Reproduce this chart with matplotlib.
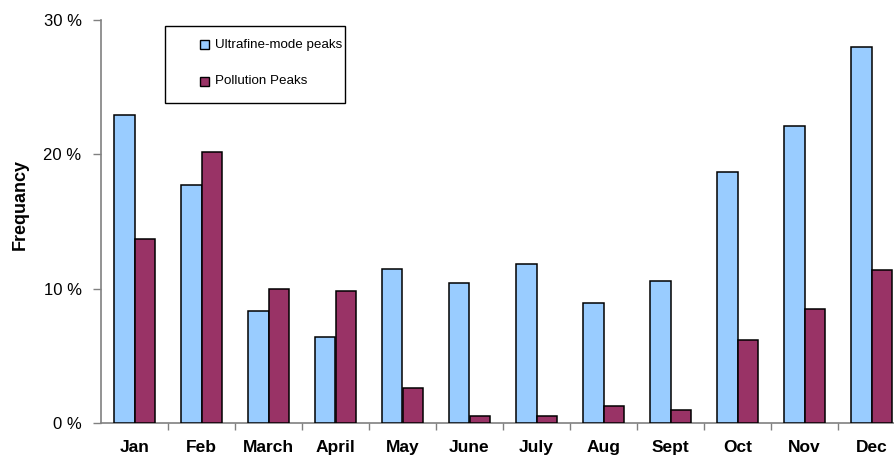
import matplotlib
matplotlib.use('Agg')
from matplotlib import pyplot as plt
from matplotlib.patches import Rectangle
import numpy as np

months = ['Jan', 'Feb', 'March', 'April', 'May', 'June', 'July', 'Aug', 'Sept', 'Oct', 'Nov', 'Dec']
ultrafine = [22.9, 17.7, 8.35, 6.4, 11.5, 10.4, 11.8, 8.9, 10.6, 18.7, 22.1, 28.0]
pollution = [13.7, 20.2, 9.95, 9.8, 2.6, 0.55, 0.55, 1.25, 1.0, 6.2, 8.45, 11.4]
y_ticks = [0, 10, 20, 30]
series_names = ['Ultrafine-mode peaks', 'Pollution Peaks']
colors = ['#99CCFF', '#993366']

plt.rcParams['font.family'] = ['Liberation Sans', 'DejaVu Sans']

W, H = 894, 461
fig = plt.figure(figsize=(W / 100, H / 100), dpi=100)

def fx(px):
    return px / W

def fy(py):
    return 1 - py / H

# axes runs past the right edge of the picture, like the original
x0, x1 = 101, 905
y0, y1 = 423, 20
ax = fig.add_axes([fx(x0), fy(y0), (x1 - x0) / W, (y0 - y1) / H])

x = np.arange(len(months))
bw = 0.3
ax.bar(x - bw / 2, ultrafine, bw, color=colors[0], edgecolor='black', linewidth=1.1, zorder=3)
ax.bar(x + bw / 2, pollution, bw, color=colors[1], edgecolor='black', linewidth=1.1, zorder=3)

ax.set_xlim(-0.5, len(months) - 0.5)
ax.set_ylim(0, 30)

ax.set_yticks(y_ticks)
ax.set_yticklabels(['%d %%' % v for v in y_ticks], fontsize=12)
ax.set_xticks(x)
ax.set_xticklabels(months, fontsize=12.5, fontweight='bold')
ax.set_xticks(np.arange(len(months)) + 0.5, minor=True)

ax.tick_params(axis='y', length=6, width=1, color='#808080', pad=8)
ax.tick_params(axis='x', which='major', length=0, pad=12)
ax.tick_params(axis='x', which='minor', length=5, width=1, color='#808080')

for s in ['top', 'right']:
    ax.spines[s].set_visible(False)
for s in ['left', 'bottom']:
    ax.spines[s].set_color('#808080')
    ax.spines[s].set_linewidth(1.2)

fig.text(fx(20), fy(205), 'Frequancy', rotation=90, fontsize=13, fontweight='bold',
         ha='center', va='center')

# legend box drawn by hand to get the wide left padding of the original
fig.add_artist(Rectangle((fx(165), fy(103)), (345 - 165) / W, (103 - 26) / H,
                         transform=fig.transFigure, facecolor='white',
                         edgecolor='black', linewidth=1, zorder=5))
for i, (name, c) in enumerate(zip(series_names, colors)):
    cy = 44.5 + i * 37
    fig.add_artist(Rectangle((fx(200), fy(cy + 4.3)), 8.6 / W, 8.6 / H,
                             transform=fig.transFigure, facecolor=c,
                             edgecolor='black', linewidth=1, zorder=6))
    fig.text(fx(215), fy(cy), name, fontsize=9.6, ha='left', va='center', zorder=6)

fig.savefig('out.png', dpi=100)
